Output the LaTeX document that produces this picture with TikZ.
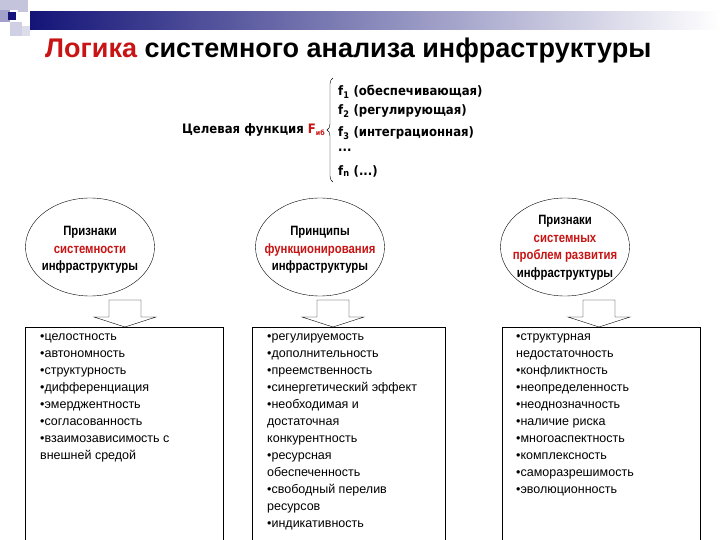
\documentclass[tikz,border=0pt]{standalone}
\usepackage{fontspec}
\setmainfont{Liberation Sans}
\newfontfamily\tah{DejaVu Sans Condensed}
\newfontfamily\narrowf[FakeStretch=0.84]{Liberation Sans}
\usetikzlibrary{decorations.pathreplacing,shapes.geometric}
\definecolor{dred}{RGB}{200,20,20}
\definecolor{navy}{RGB}{20,20,120}
\begin{document}
\begin{tikzpicture}[x=1pt,y=-1pt,
  ell/.style={draw,ellipse,minimum width=129pt,minimum height=98pt,inner sep=0pt},
  etxt/.style={align=center,font=\narrowf\fontsize{13.5}{17.5}\selectfont\bfseries,inner sep=0pt},
  btxt/.style={anchor=north west,align=left,font=\fontsize{12.5}{17}\selectfont,inner sep=0pt},
  barrow/.style={draw,fill=white},
  ftxt/.style={anchor=west,font=\tah\bfseries\fontsize{13}{15}\selectfont,inner sep=0pt}]
\useasboundingbox (0,0) rectangle (720,540);
\fill[white] (0,0) rectangle (720,540);
% banner
\shade[left color=navy,right color=white] (30,12) rectangle (720,30);
\fill[navy!25] (0,0) rectangle (18,10);
\fill[navy!25] (18,0) rectangle (28,12);
\fill[navy!40] (0,10) rectangle (10,22);
\fill[navy] (8,12) rectangle (16,20);
\fill[navy!20] (10,22) rectangle (22,36);
\fill[navy!15] (22,26) rectangle (30,36);
% title
\node[anchor=base west,inner sep=0pt,font=\fontsize{27}{30}\selectfont\bfseries] (title) at (45,58) {\textcolor{dred}{Логика} системного анализа инфраструктуры};
% target function
\node[anchor=east,inner sep=0pt,font=\tah\bfseries\fontsize{13}{15}\selectfont] (cf) at (325,130) {Целевая функция \textcolor{dred}{F\raisebox{-0.3ex}{\fontsize{7}{8}\selectfont иб}}};
\draw[decorate,decoration={brace,amplitude=6pt}] (333,182) -- (333,78);
\node[ftxt] (f1) at (338,92) {f\textsubscript{1} (обеспечивающая)};
\node[ftxt] (f2) at (338,111) {f\textsubscript{2} (регулирующая)};
\node[ftxt] (f3) at (338,133) {f\textsubscript{3} (интеграционная)};
\node[ftxt] (fd) at (338,150) {...};
\node[ftxt] (fn) at (338,171) {f\textsubscript{n} (...)};
% ellipses
\node[ell] (e1) at (90,247) {};
\node[ell] (e2) at (320,247) {};
\node[ell] (e3) at (565,247) {};
\node[etxt] (l1) at ([yshift=-3pt]e1.center) {Признаки\\\textcolor{dred}{системности}\\инфраструктуры};
\node[etxt] (l2) at ([yshift=-3pt]e2.center) {Принципы\\\textcolor{dred}{функционирования}\\инфраструктуры};
\node[etxt] (l3) at ([yshift=-1pt]e3.center) {Признаки\\\textcolor{dred}{системных}\\\textcolor{dred}{проблем развития}\\инфраструктуры};
% block arrows
\foreach \c in {125,333,599}{
  \draw[barrow] (\c-16,300) -- (\c+16,300) -- (\c+16,317) -- (\c+31,317) -- (\c,327) -- (\c-31,317) -- (\c-16,317) -- cycle;
}
% boxes
\draw (25,327) -- (25,541) (223,327) -- (223,541) (25,327) -- (223,327);
\draw (252,327) -- (252,541) (445,327) -- (445,541) (252,327) -- (445,327);
\draw (502,327) -- (502,541) (700,327) -- (700,541) (502,327) -- (700,327);
\node[btxt] (t1) at (40,334) {•целостность\\•автономность\\•структурность\\•дифференциация\\•эмерджентность\\•согласованность\\•взаимозависимость с\\внешней средой};
\node[btxt] (t2) at (267,334) {•регулируемость\\•дополнительность\\•преемственность\\•синергетический эффект\\•необходимая и\\достаточная\\конкурентность\\•ресурсная\\обеспеченность\\•свободный перелив\\ресурсов\\•индикативность};
\node[btxt] (t3) at (516,334) {•структурная\\недостаточность\\•конфликтность\\•неопределенность\\•неоднозначность\\•наличие риска\\•многоаспектность\\•комплексность\\•саморазрешимость\\•эволюционность};
\end{tikzpicture}
\end{document}
